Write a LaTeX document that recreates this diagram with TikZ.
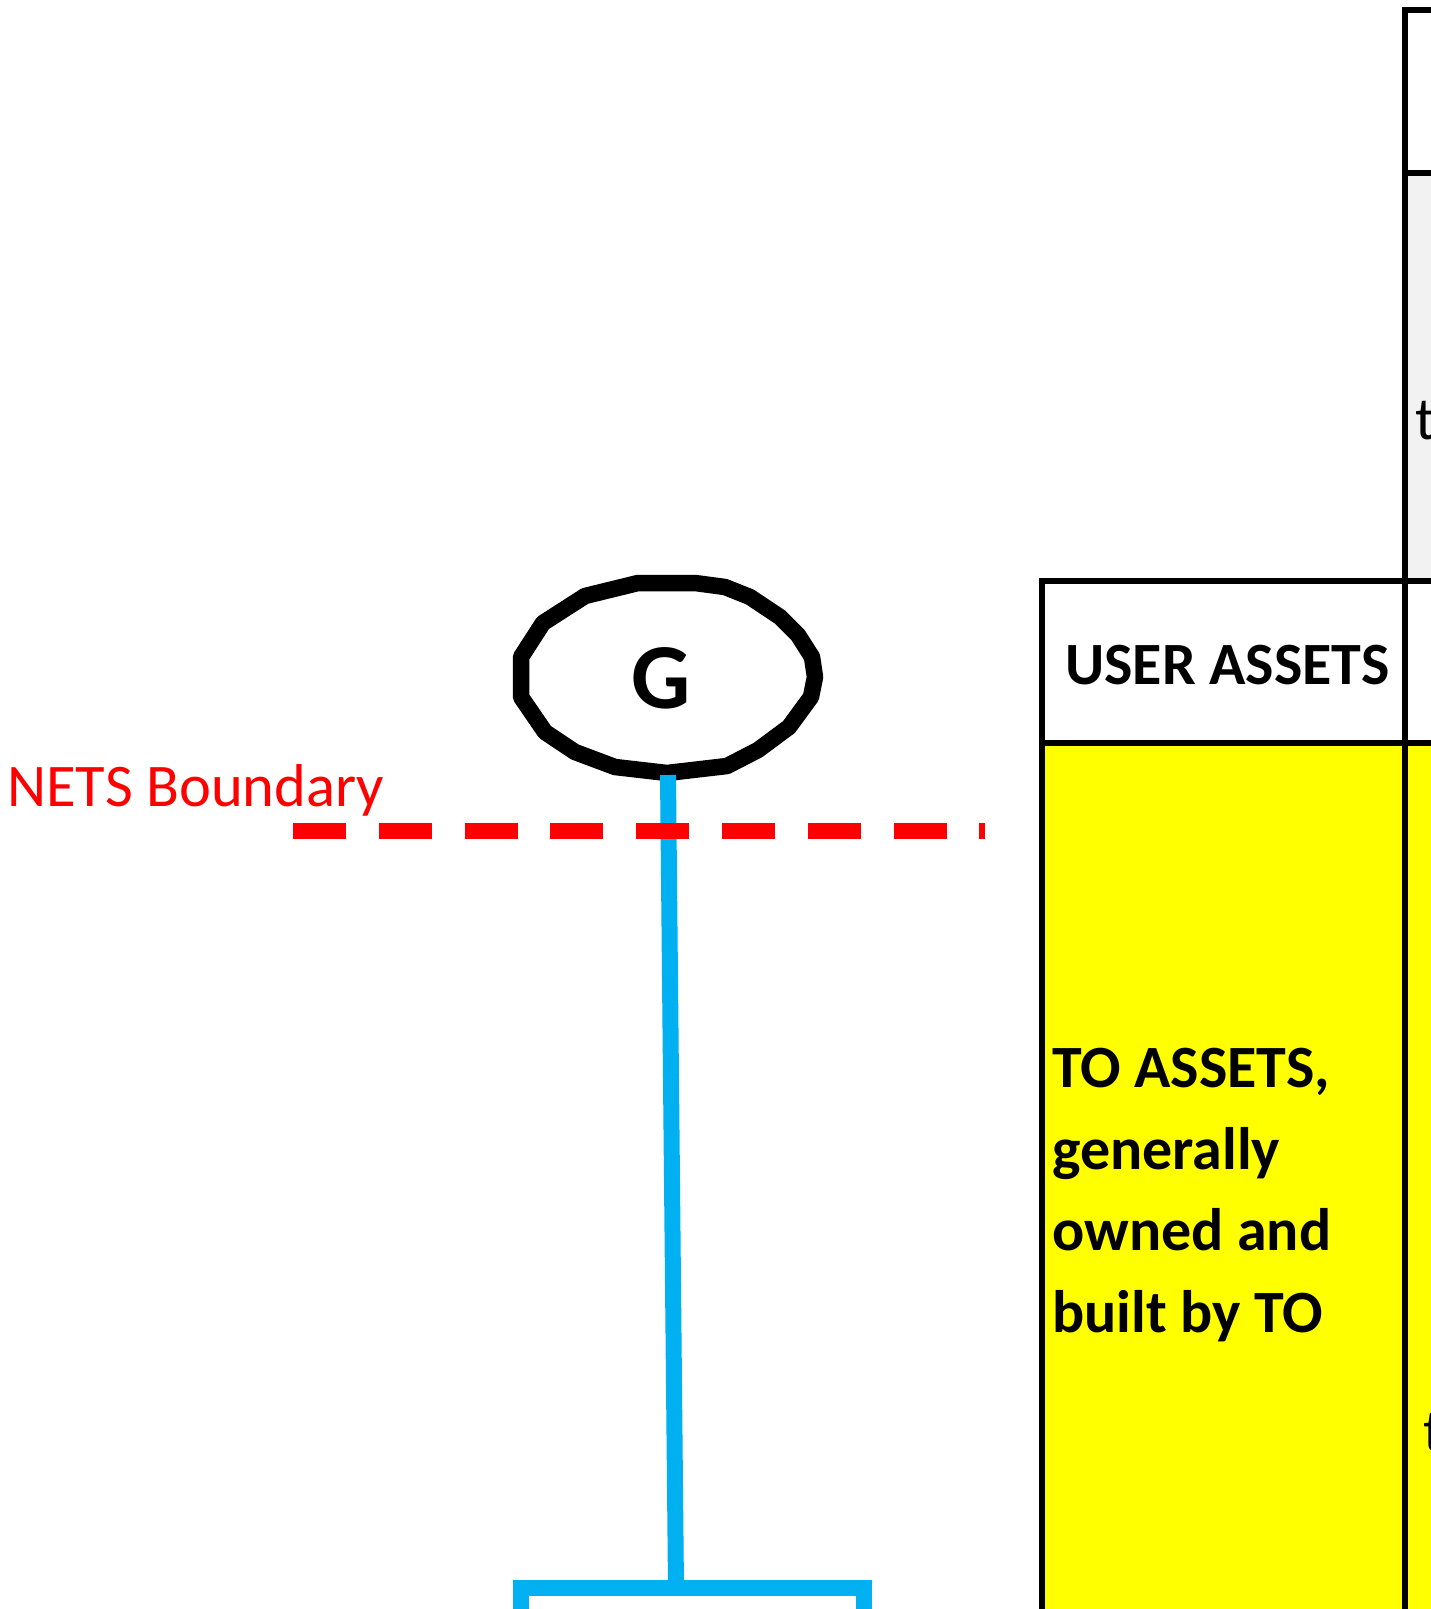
\documentclass[tikz,border=0pt]{standalone}
\usepackage{fontspec}
\setmainfont{Carlito}
\usepackage{tikz}
\usetikzlibrary{positioning}
\definecolor{busblue}{HTML}{00B0F0}
\definecolor{cellgrey}{HTML}{F2F2F2}
\definecolor{cellyellow}{HTML}{FFFF00}
\tikzset{
  cellbox/.style={draw=black, line width=5.3pt},
  celltext/.style={inner sep=0pt, font=\fontsize{60.5}{81.5}\selectfont},
  boldtext/.style={celltext, font=\fontsize{60}{81.5}\selectfont\bfseries},
  busline/.style={draw=busblue, line width=16pt},
  boundary/.style={draw=red, line width=16pt, dash pattern=on 53pt off 32.8pt},
  genring/.style={draw=black, line width=16.5pt, line join=round}
}

\begin{document}
\begin{tikzpicture}[x=1pt, y=-1pt]
      \useasboundingbox (0,0) rectangle (1431,1609);
      % Define cells
      \path[cellbox, fill=white] (1405,10) rectangle (1450,173);
      \path[cellbox, fill=cellgrey] (1405,173) rectangle (1450,581);
      \path[cellbox, fill=white] (1042,581) rectangle (1405,743);
      \path[cellbox, fill=white] (1405,581) rectangle (1450,743);
      \path[cellbox, fill=cellyellow] (1042,743) rectangle (1405,1630);
      \path[cellbox, fill=cellyellow] (1405,743) rectangle (1450,1630);
      % Define nodes
      \node[boldtext, anchor=base west] (user) at (1065,684) {USER ASSETS};
      \node[boldtext, anchor=north west, align=left] (toassets) at (1052,1048) {TO ASSETS,\\generally\\owned and\\built by TO};
      \node[celltext, anchor=base west] (tgrey) at (1415,439) {t};
      \node[celltext, anchor=base west] (tyellow) at (1423,1451) {t};
      \node[font=\fontsize{93}{93}\selectfont\bfseries, inner sep=0pt, anchor=base] (gen) at (661,708) {G};
      \node[celltext, text=red, anchor=base west] (nets) at (7,806) {NETS Boundary};
      % Generator outline
      \draw[genring] (638,583) -- (695,583) -- (725,587) -- (750,597) -- (780,617) -- (798,635)
        -- (812,657) -- (815,677) -- (811,697) -- (789,727) -- (758,750) -- (727,766) -- (667,773)
        -- (615,767) -- (575,752) -- (545,732) -- (521,697) -- (521,657) -- (543,623) -- (585,596) -- cycle;
      % Bus and boundary
      \coordinate (genfoot) at (668,775);
      \coordinate (bustop) at (676,1588);
      \coordinate (busleft) at (521,1609);
      \coordinate (busright) at (864,1609);
      \coordinate (bndleft) at (293,831);
      \coordinate (bndright) at (985,831);
      \draw[busline] (genfoot) -- (bustop);
      \draw[busline, line join=miter] (busleft) |- (bustop) -| (busright);
      \draw[boundary] (bndleft) -- (bndright);
    \end{tikzpicture}
\end{document}
